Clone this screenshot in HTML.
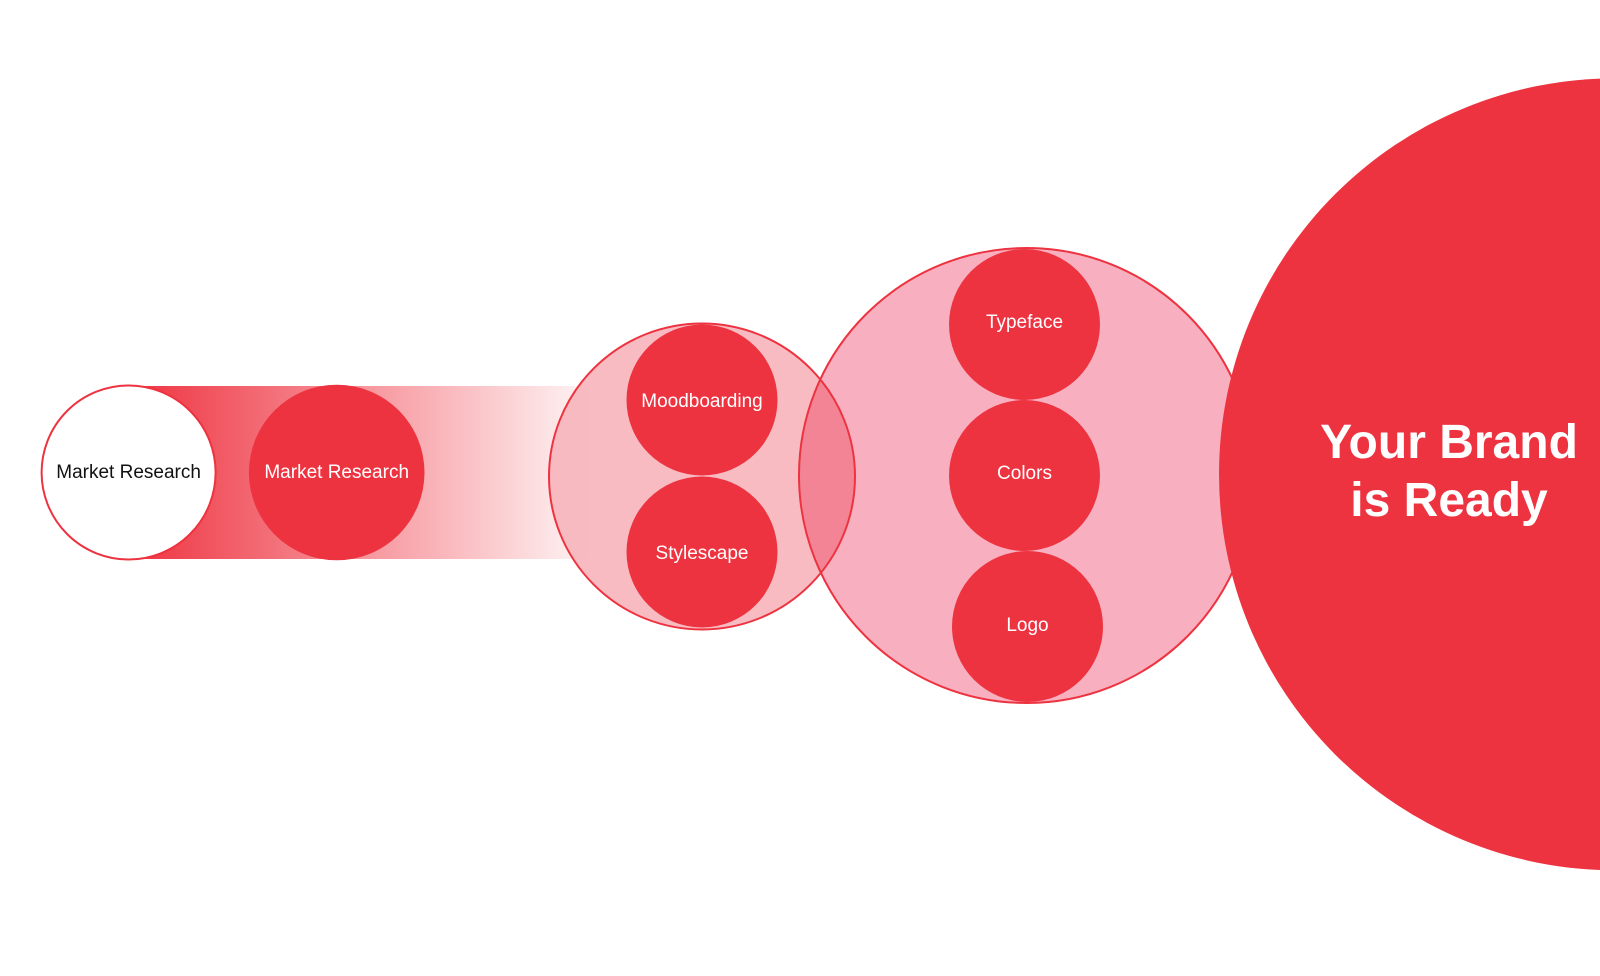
<!DOCTYPE html>
<html><head><style>
html,body{margin:0;padding:0;background:#fff;}
svg{display:block;}
text{font-family:"Liberation Sans",sans-serif;}
</style></head><body>
<svg width="1600" height="976" viewBox="0 0 1600 976" xmlns="http://www.w3.org/2000/svg">
<defs>
<linearGradient id="band" x1="129" y1="0" x2="615" y2="0" gradientUnits="userSpaceOnUse">
<stop offset="0" stop-color="#ee3340"/>
<stop offset="1" stop-color="#ee3340" stop-opacity="0"/>
</linearGradient>
<clipPath id="midclip"><circle cx="702" cy="476.5" r="153"/></clipPath>
</defs>
<rect x="129" y="386" width="490" height="173" fill="url(#band)"/>
<circle cx="128.6" cy="472.5" r="87" fill="#fff" stroke="#ee3340" stroke-width="2"/>
<text x="128.6" y="478" font-size="19" text-anchor="middle" fill="#111">Market Research</text>
<circle cx="336.7" cy="472.5" r="87.8" fill="#ee3340"/>
<text x="336.7" y="478" font-size="19" text-anchor="middle" fill="#fff">Market Research</text>

<circle cx="702" cy="476.5" r="153" fill="#f7b5bd" fill-opacity="0.92"/>
<circle cx="1026.5" cy="475.5" r="227.5" fill="#f8b0c0"/>
<circle cx="1026.5" cy="475.5" r="227.5" fill="#f28496" clip-path="url(#midclip)"/>
<circle cx="702" cy="476.5" r="153" fill="none" stroke="#ee3340" stroke-width="2"/>
<circle cx="1026.5" cy="475.5" r="227.5" fill="none" stroke="#ee3340" stroke-width="2"/>

<circle cx="702" cy="400" r="75.5" fill="#ee3340"/>
<text x="702" y="407" font-size="19" text-anchor="middle" fill="#fff">Moodboarding</text>
<circle cx="702" cy="552" r="75.5" fill="#ee3340"/>
<text x="702" y="559" font-size="19" text-anchor="middle" fill="#fff">Stylescape</text>

<circle cx="1024.5" cy="324.5" r="75.5" fill="#ee3340"/>
<text x="1024.5" y="328" font-size="19" text-anchor="middle" fill="#fff">Typeface</text>
<circle cx="1024.5" cy="475.5" r="75.5" fill="#ee3340"/>
<text x="1024.5" y="479" font-size="19" text-anchor="middle" fill="#fff">Colors</text>
<circle cx="1027.5" cy="626.5" r="75.5" fill="#ee3340"/>
<text x="1027.5" y="631" font-size="19" text-anchor="middle" fill="#fff">Logo</text>

<circle cx="1615" cy="474.3" r="396" fill="#ee3340"/>
<text x="1449" y="458" font-size="48" font-weight="bold" text-anchor="middle" fill="#fff">Your Brand</text>
<text x="1449" y="516" font-size="48" font-weight="bold" text-anchor="middle" fill="#fff">is Ready</text>
</svg>
</body></html>
